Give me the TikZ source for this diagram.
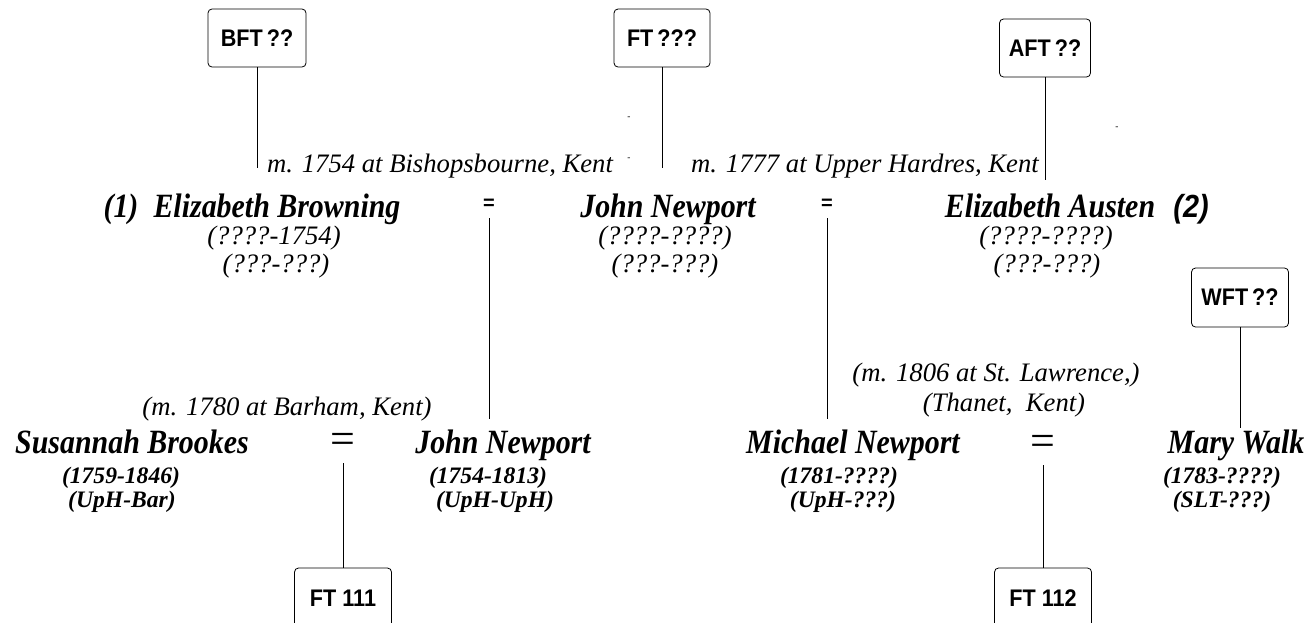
\documentclass[tikz,border=0pt]{standalone}
\usepackage{fontspec}
\setmainfont{Liberation Serif}
\newfontfamily\arialfont{Liberation Sans}
\newfontfamily\boxfamily{Liberation Sans}[FakeStretch=0.9]
\newfontfamily\namefamily{Liberation Serif}[FakeStretch=0.88]
\begin{document}
\begin{tikzpicture}[x=0.75pt, y=-0.75pt, line width=0.6pt,
  tree box/.style={draw, rounded corners=3pt, inner sep=0pt, minimum width=72pt, minimum height=43.5pt, font=\boxfamily\bfseries\fontsize{18}{20}\selectfont},
  name node/.style={anchor=base, inner sep=0pt, font=\namefamily\bfseries\itshape\fontsize{25.5}{28}\selectfont},
  date node/.style={anchor=base, inner sep=0pt, font=\itshape\fontsize{20}{24}\selectfont},
  bdate node/.style={anchor=base, inner sep=0pt, font=\bfseries\itshape\fontsize{17.7}{20}\selectfont},
  marr node/.style={anchor=base, inner sep=0pt, font=\itshape\fontsize{20}{24}\selectfont},
  eq node/.style={inner sep=0pt, font=\arialfont\bfseries\fontsize{15}{17}\selectfont},
  big eq/.style={inner sep=0pt, font=\fontsize{33}{35}\selectfont}]
        \useasboundingbox (0,0) rectangle (1312,622);

          % family tree boxes
          \node[tree box, minimum width=73.5pt] (bft) at (257,38) {BFT\,??};
          \node[tree box] (ftq) at (662,38) {FT\,???};
          \node[tree box, minimum width=68.25pt] (aft) at (1045,48) {AFT\,??};
          \node[tree box, minimum width=72.75pt, minimum height=44.25pt] (wft) at (1240,297.5) {WFT\,??};
          \node[tree box, minimum width=72.75pt, minimum height=45pt] (ft1) at (343,598) {FT 111};
          \node[tree box, minimum width=72.75pt, minimum height=45pt] (ft2) at (1043,598) {FT 112};

          % first generation
          \node[name node] (0) at (121,217) {(1)};
          \node[name node] (1) at (277,217) {Elizabeth Browning};
          \node[date node] (1a) at (274,244) {(????-1754)};
          \node[date node] (1b) at (276,272) {(???-???)};
          \node[name node] (2) at (668,217) {John Newport};
          \node[date node] (2a) at (665,244) {(????-????)};
          \node[date node] (2b) at (665,272) {(???-???)};
          \node[name node] (3) at (1050,217) {Elizabeth Austen};
          \node[name node, font=\boxfamily\bfseries\itshape\fontsize{24}{26}\selectfont] (4) at (1191,217) {(2)};
          \node[date node] (3a) at (1046,244) {(????-????)};
          \node[date node] (3b) at (1047,272) {(???-???)};
          \node[eq node, minimum height=21pt] (e1) at (489,204) {=};
          \node[eq node, minimum height=21pt] (e2) at (827,204) {=};

          % marriages
          \node[marr node] (m1) at (440,172) {m. 1754 at Bishopsbourne, Kent};
          \node[marr node] (m2) at (865,172) {m. 1777 at Upper Hardres, Kent};
          \node[marr node] (m3) at (287,415) {(m. 1780 at Barham, Kent)};
          \node[marr node] (m4) at (996,381) {(m. 1806 at St. Lawrence,)};
          \node[marr node] (m5) at (1004,411) {(Thanet,\ \ Kent)};
          \node[inner sep=0pt, font=\fontsize{7}{8}\selectfont] (t1) at (629,118) {-};
          \node[inner sep=0pt, font=\fontsize{7}{8}\selectfont] (t2) at (629,159) {-};
          \node[inner sep=0pt, font=\fontsize{7}{8}\selectfont] (t3) at (1117,128) {-};

          % second generation
          \node[name node] (5) at (132,453) {Susannah Brookes};
          \node[bdate node] (5a) at (121,483) {(1759-1846)};
          \node[bdate node] (5b) at (122,507) {(UpH-Bar)};
          \node[name node] (6) at (503,453) {John Newport};
          \node[bdate node] (6a) at (488,483) {(1754-1813)};
          \node[bdate node] (6b) at (495,507) {(UpH-UpH)};
          \node[name node] (7) at (853,453) {Michael Newport};
          \node[bdate node] (7a) at (839,483) {(1781-????)};
          \node[bdate node] (7b) at (843,507) {(UpH-???)};
          \node[name node] (8) at (1236,453) {Mary Walk};
          \node[bdate node] (8a) at (1222,483) {(1783-????)};
          \node[bdate node] (8b) at (1222,507) {(SLT-???)};
          \node[big eq, minimum height=30pt] (e3) at (343,443) {=};
          \node[big eq, minimum height=30pt] (e4) at (1043,445) {=};

          \coordinate (c1) at (257,168);
          \coordinate (c2) at (662,168);
          \coordinate (c3) at (1045,180);
          \coordinate (c4) at (489,419);
          \coordinate (c5) at (827,419);
          \coordinate (c6) at (1240,428);

          \draw (bft.south) -- (c1);
          \draw (ftq.south) -- (c2);
          \draw (aft.south) -- (c3);
          \draw (e1.south) -- (c4);
          \draw (e2.south) -- (c5);
          \draw (wft.south) -- (c6);
          \draw (e3.south) -- (ft1.north);
          \draw (e4.south) -- (ft2.north);

        \end{tikzpicture}
\end{document}
